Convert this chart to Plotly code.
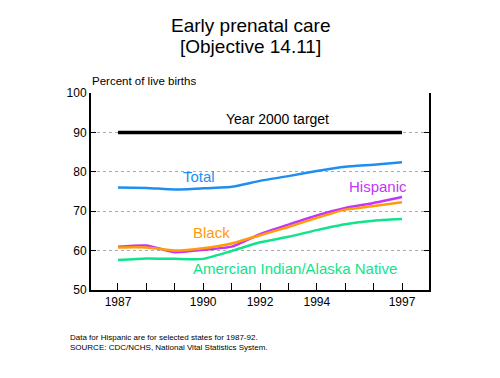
import plotly.graph_objects as go

years = [1987, 1988, 1989, 1990, 1991, 1992, 1993, 1994, 1995, 1996, 1997]
total = [76.0, 75.9, 75.5, 75.8, 76.2, 77.7, 78.9, 80.2, 81.3, 81.8, 82.4]
hispanic = [61.0, 61.3, 59.6, 60.2, 61.0, 64.2, 66.6, 68.9, 70.8, 72.1, 73.6]
black = [60.8, 60.8, 60.0, 60.6, 61.8, 63.9, 66.0, 68.3, 70.4, 71.3, 72.3]
aian = [57.6, 58.0, 57.9, 57.9, 59.9, 62.1, 63.5, 65.2, 66.7, 67.6, 68.0]
target_years = [1987, 1997]
target = [90, 90]

tick_years = years
tick_text = ["1987", "", "", "1990", "", "1992", "", "1994", "", "", "1997"]
y_ticks = [50, 60, 70, 80, 90, 100]

C_TOTAL = "#1E8FF0"
C_HISP = "#C535F5"
C_BLACK = "#FF9A0A"
C_AIAN = "#10E38A"

FONT = "Liberation Sans"

fig = go.Figure()
fig.add_trace(go.Scatter(x=target_years, y=target, mode="lines",
                         line=dict(color="black", width=3.5), hoverinfo="skip"))
fig.add_trace(go.Scatter(x=years, y=total, mode="lines",
                         line=dict(color=C_TOTAL, width=2.5, shape="spline", smoothing=0.5)))
fig.add_trace(go.Scatter(x=years, y=aian, mode="lines",
                         line=dict(color=C_AIAN, width=2.5, shape="spline", smoothing=0.5)))
fig.add_trace(go.Scatter(x=years, y=hispanic, mode="lines",
                         line=dict(color=C_HISP, width=2.5, shape="spline", smoothing=0.5)))
fig.add_trace(go.Scatter(x=years, y=black, mode="lines",
                         line=dict(color=C_BLACK, width=2.5, shape="spline", smoothing=0.5)))

ann = [
    dict(text="Year 2000 target", x=1992.6, y=93.4, color="black", size=14),
    dict(text="Total", x=1989.86, y=78.8, color=C_TOTAL, size=15),
    dict(text="Hispanic", x=1996.16, y=76.3, color=C_HISP, size=15),
    dict(text="Black", x=1990.3, y=64.5, color=C_BLACK, size=15),
    dict(text="Amercian Indian/Alaska Native", x=1993.24, y=55.4, color=C_AIAN, size=15),
]
for a in ann:
    fig.add_annotation(x=a["x"], y=a["y"], xref="x", yref="y", text=a["text"],
                       xanchor="center", yanchor="middle",
                       showarrow=False, font=dict(family=FONT, size=a["size"], color=a["color"]))

# screen-pixel helpers (plot area on screen: x 91..429, y 93..290)
def py(ypix):
    return (290 - ypix) / (290 - 93)
def px(xpix):
    return (xpix - 91) / (429 - 91)

def paper_text(x, y, text, size, xanchor="center"):
    fig.add_annotation(x=px(x), y=py(y), xref="paper", yref="paper",
                       xanchor=xanchor, yanchor="middle", text=text, showarrow=False,
                       font=dict(family=FONT, size=size, color="black"))

paper_text(250, 25, "Early prenatal care", 19)
paper_text(250, 47, "[Objective 14.11]", 19)
paper_text(90, 81, "Percent of live births", 11.5, "left")
paper_text(68, 337, "Data for Hispanic are for selected states for 1987-92.", 8, "left")
paper_text(68, 347, "SOURCE: CDC/NCHS, National Vital Statistics System.", 8, "left")

# page body has an 8px offset; margins compensate so the plot lands at 91..429 x 93..290
fig.update_layout(
    width=500, height=378,
    margin=dict(l=83, r=79, t=85, b=96),
    paper_bgcolor="white", plot_bgcolor="white",
    showlegend=False,
    font=dict(family=FONT, color="black"),
    xaxis=dict(range=[1986.05, 1997.95], tickmode="array", tickvals=tick_years,
               ticktext=tick_text, ticks="inside", ticklen=7, tickwidth=1,
               tickcolor="black", showline=True, linecolor="black", linewidth=2,
               showgrid=False, zeroline=False, tickfont=dict(size=12, family=FONT),
               fixedrange=True),
    yaxis=dict(range=[50, 100], tickmode="array", tickvals=y_ticks,
               ticks="inside", ticklen=5, tickwidth=1, tickcolor="black",
               showline=True, linecolor="black", linewidth=2, mirror="ticks",
               showgrid=True, gridcolor="#aaaaaa", griddash="dot", gridwidth=1,
               zeroline=False, tickfont=dict(size=12, family=FONT), fixedrange=True),
)

fig.write_html("out.html")
